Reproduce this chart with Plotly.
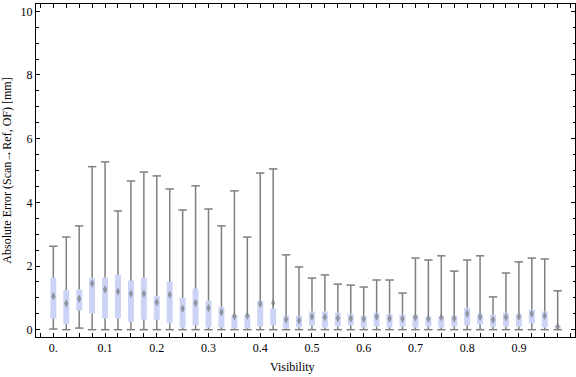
import plotly.graph_objects as go

# Visibility categories (one box per value)
visibility = [0.000, 0.025, 0.050, 0.075, 0.100, 0.125, 0.150, 0.175, 0.200, 0.225,
              0.250, 0.275, 0.300, 0.325, 0.350, 0.375, 0.400, 0.425, 0.450, 0.475,
              0.500, 0.525, 0.550, 0.575, 0.600, 0.625, 0.650, 0.675, 0.700, 0.725,
              0.750, 0.775, 0.800, 0.825, 0.850, 0.875, 0.900, 0.925, 0.950, 0.975]

# Box-whisker statistics (absolute error, mm)
whisker_min = [0.02, 0.00, 0.05, 0.00, 0.00, 0.00, 0.00, 0.00, 0.00, 0.00,
               0.00, 0.00, 0.00, 0.00, 0.00, 0.00, 0.00, 0.00, 0.00, 0.00,
               0.00, 0.00, 0.00, 0.00, 0.00, 0.00, 0.00, 0.00, 0.00, 0.00,
               0.00, 0.00, 0.00, 0.00, 0.00, 0.00, 0.00, 0.00, 0.00, 0.00]
q1 = [0.35, 0.17, 0.60, 0.51, 0.36, 0.36, 0.25, 0.32, 0.31, 0.20,
      0.07, 0.14, 0.07, 0.07, 0.04, 0.04, 0.10, 0.14, 0.04, 0.08,
      0.13, 0.07, 0.10, 0.14, 0.07, 0.10, 0.07, 0.10, 0.07, 0.10,
      0.07, 0.10, 0.14, 0.17, 0.10, 0.10, 0.10, 0.20, 0.07, 0.04]
median = [1.05, 0.82, 0.97, 1.45, 1.26, 1.20, 1.13, 1.13, 0.86, 1.10,
          0.66, 0.84, 0.68, 0.55, 0.42, 0.44, 0.81, 0.84, 0.32, 0.29,
          0.41, 0.39, 0.36, 0.35, 0.34, 0.41, 0.35, 0.34, 0.39, 0.34,
          0.39, 0.35, 0.50, 0.40, 0.31, 0.39, 0.41, 0.50, 0.44, 0.10]
q3 = [1.63, 1.25, 1.26, 1.62, 1.63, 1.72, 1.54, 1.63, 1.05, 1.51,
      1.00, 1.29, 0.91, 0.72, 0.47, 0.47, 0.91, 0.66, 0.44, 0.44,
      0.57, 0.57, 0.53, 0.50, 0.44, 0.53, 0.50, 0.47, 0.47, 0.41,
      0.41, 0.44, 0.69, 0.50, 0.47, 0.53, 0.50, 0.63, 0.57, 0.13]
whisker_max = [2.62, 2.91, 3.26, 5.12, 5.27, 3.73, 4.67, 4.95, 4.83, 4.42,
               3.76, 4.52, 3.79, 3.26, 4.36, 2.91, 4.92, 5.05, 2.35, 1.97,
               1.62, 1.72, 1.43, 1.40, 1.34, 1.56, 1.56, 1.15, 2.25, 2.19,
               2.32, 1.84, 2.19, 2.32, 1.03, 1.78, 2.13, 2.25, 2.22, 1.22]

tick_positions = [0.0, 0.1, 0.2, 0.3, 0.4, 0.5, 0.6, 0.7, 0.8, 0.9]
tick_labels = ["0.", "0.1", "0.2", "0.3", "0.4", "0.5", "0.6", "0.7", "0.8", "0.9"]
y_tick_positions = [0, 2, 4, 6, 8, 10]
y_tick_labels = ["0", "2", "4", "6", "8", "10"]

GRAY = "#7f7f7f"
BOX = "#cbd3f6"
FONT = "Liberation Serif"

fig = go.Figure()

# whisker segments (outside the box)
wx, wy = [], []
for x, lo, a, b, hi in zip(visibility, whisker_min, q1, q3, whisker_max):
    wx += [x, x, None, x, x, None]
    wy += [lo, a, None, b, hi, None]
fig.add_trace(go.Scatter(x=wx, y=wy, mode="lines",
                         line=dict(color=GRAY, width=1.5),
                         hoverinfo="skip", showlegend=False))

# whisker caps
fig.add_trace(go.Scatter(x=visibility + visibility, y=whisker_min + whisker_max,
                         mode="markers",
                         marker=dict(symbol="line-ew", size=6,
                                     line=dict(color=GRAY, width=1.5)),
                         hoverinfo="skip", showlegend=False))

# boxes (q1..q3)
fig.add_trace(go.Bar(x=visibility, base=q1,
                     y=[b - a for a, b in zip(q1, q3)],
                     width=0.0115, marker=dict(color=BOX, line=dict(width=0)),
                     showlegend=False))

# medians
fig.add_trace(go.Scatter(x=visibility, y=median, mode="markers",
                         marker=dict(symbol="diamond-tall", size=6,
                                     color="rgba(120,120,120,0.7)",
                                     line=dict(width=0)),
                         showlegend=False))

fig.update_layout(
    width=576, height=377,
    margin=dict(l=36, r=1, t=4, b=40),
    paper_bgcolor="white", plot_bgcolor="white",
    font=dict(family=FONT, size=12, color="black"),
    showlegend=False,
    xaxis=dict(range=[-0.0335, 1.0085],
               tickmode="array", tickvals=tick_positions, ticktext=tick_labels,
               ticks="inside", ticklen=4, tickcolor="black", tickwidth=1,
               minor=dict(dtick=0.025, tick0=0, ticks="inside", ticklen=4,
                          tickcolor="black", showgrid=False),
               showline=True, linecolor="black", linewidth=1, mirror="ticks",
               showgrid=False, zeroline=False,
               tickfont=dict(family=FONT, size=12)),
    yaxis=dict(range=[-0.23, 10.23],
               tickmode="array", tickvals=y_tick_positions, ticktext=y_tick_labels,
               ticks="inside", ticklen=4, tickcolor="black", tickwidth=1,
               minor=dict(dtick=0.5, tick0=0, ticks="inside", ticklen=2.5,
                          tickcolor="black", showgrid=False),
               showline=True, linecolor="black", linewidth=1, mirror="ticks",
               showgrid=False, zeroline=False,
               tickfont=dict(family=FONT, size=12),
               title=dict(text="Absolute Error (Scan\u2192Ref, OF) [mm]",
                          font=dict(family=FONT, size=12), standoff=6)),
    annotations=[dict(text="Visibility", xref="paper", yref="paper",
                      x=0.476, y=-0.089, xanchor="center", yanchor="middle",
                      showarrow=False, font=dict(family=FONT, size=12))],
)

fig.write_html("out.html",
               config={"displayModeBar": False},
               post_script="document.body.style.margin='0';document.body.style.padding='0';")
